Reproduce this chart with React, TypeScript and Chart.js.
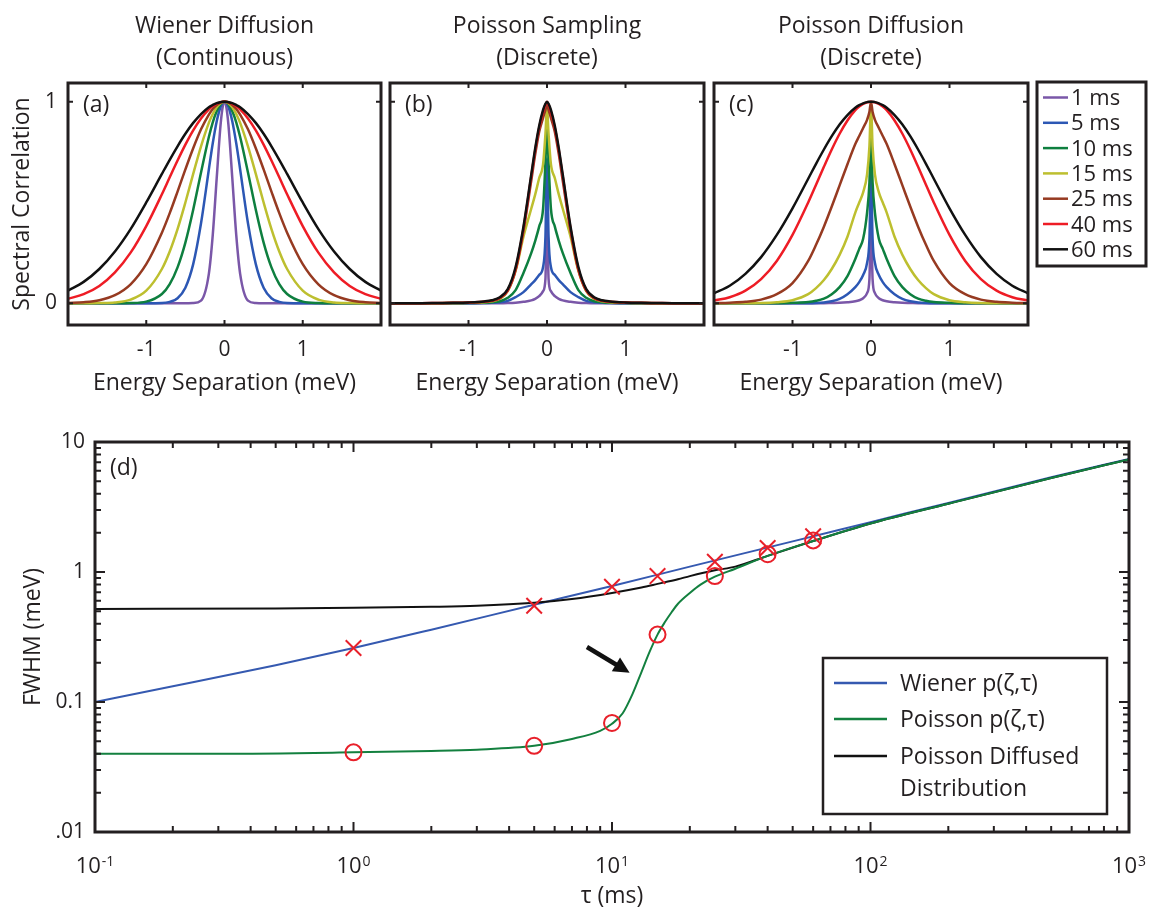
import React, { useEffect, useRef } from 'react';
import { Chart, registerables } from 'chart.js';

Chart.register(...registerables);

const FONT = '"Open Sans", "Noto Sans", "DejaVu Sans", sans-serif';
const INK = '#231F20';
const fontStr = (size: number) => `${size}px ${FONT}`;

// ---------------- Panels (a)-(c): spectral correlation vs energy separation ----------------
// one side of each (symmetric) profile, energy separation in meV
const energyHalf = [0, 0.02, 0.05, 0.1, 0.15, 0.2, 0.3, 0.4, 0.5, 0.6, 0.7, 0.8, 1.0, 1.2, 1.4, 1.6, 1.8, 2.0];

const delayLabels = ['1 ms', '5 ms', '10 ms', '15 ms', '25 ms', '40 ms', '60 ms'];
const delayColors = ['#7A57A8', '#2C57B4', '#0E7F3F', '#BDBF2F', '#963A21', '#EE1C25', '#111111'];

const energyTicks = [-1, 0, 1];
const correlationTicks = [0, 1];

// (a) Wiener diffusion (continuous)
const wienerA1 = [1, 0.981, 0.886, 0.618, 0.339, 0.146, 0.013, 0.001, 0, 0, 0, 0, 0, 0, 0, 0, 0, 0];
const wienerA5 = [1, 0.996, 0.975, 0.902, 0.794, 0.664, 0.397, 0.194, 0.077, 0.025, 0.007, 0.001, 0, 0, 0, 0, 0, 0];
const wienerA10 = [1, 0.998, 0.988, 0.953, 0.898, 0.825, 0.649, 0.464, 0.301, 0.178, 0.095, 0.046, 0.008, 0.001, 0, 0, 0, 0];
const wienerA15 = [1, 0.999, 0.993, 0.973, 0.939, 0.895, 0.779, 0.642, 0.5, 0.368, 0.257, 0.17, 0.0625, 0.018, 0.004, 0.001, 0, 0];
const wienerA25 = [1, 0.999, 0.996, 0.984, 0.964, 0.936, 0.863, 0.769, 0.664, 0.554, 0.447, 0.35, 0.194, 0.094, 0.04, 0.015, 0.005, 0.001];
const wienerA40 = [1, 1, 0.998, 0.99, 0.979, 0.962, 0.917, 0.858, 0.787, 0.708, 0.625, 0.541, 0.383, 0.251, 0.153, 0.086, 0.045, 0.022];
const wienerA60 = [1, 1, 0.998, 0.993, 0.984, 0.973, 0.939, 0.895, 0.841, 0.779, 0.712, 0.642, 0.5, 0.368, 0.257, 0.17, 0.106, 0.0625];

// (b) Poisson sampling (discrete)
const samplingB1 = [0.45, 0.12, 0.06, 0.035, 0.022, 0.014, 0.007, 0.003, 0.001, 0, 0, 0, 0, 0, 0, 0, 0, 0];
const samplingB5 = [0.72, 0.33, 0.18, 0.14, 0.115, 0.095, 0.055, 0.03, 0.012, 0.005, 0.002, 0.001, 0, 0, 0, 0, 0, 0];
const samplingB10 = [0.9, 0.7, 0.47, 0.38, 0.31, 0.25, 0.15, 0.065, 0.027, 0.01, 0.005, 0.002, 0.001, 0, 0, 0, 0, 0];
const samplingB15 = [0.97, 0.84, 0.69, 0.62, 0.54, 0.47, 0.33, 0.16, 0.06, 0.022, 0.01, 0.005, 0.002, 0.001, 0, 0, 0, 0];
const samplingB25 = [0.99, 0.96, 0.92, 0.85, 0.74, 0.61, 0.36, 0.165, 0.062, 0.025, 0.012, 0.007, 0.003, 0.001, 0, 0, 0, 0];
const samplingB40 = [1, 0.985, 0.95, 0.87, 0.76, 0.63, 0.37, 0.17, 0.065, 0.027, 0.013, 0.008, 0.004, 0.002, 0.001, 0, 0, 0];
const samplingB60 = [1, 0.99, 0.96, 0.88, 0.77, 0.64, 0.38, 0.18, 0.07, 0.03, 0.015, 0.009, 0.004, 0.002, 0.001, 0, 0, 0];

// (c) Poisson diffusion (discrete)
const diffusionC1 = [0.45, 0.12, 0.05, 0.025, 0.015, 0.01, 0.005, 0.002, 0.001, 0, 0, 0, 0, 0, 0, 0, 0, 0];
const diffusionC5 = [0.65, 0.32, 0.2, 0.14, 0.105, 0.08, 0.045, 0.022, 0.01, 0.004, 0.001, 0, 0, 0, 0, 0, 0, 0];
const diffusionC10 = [0.85, 0.6, 0.45, 0.32, 0.27, 0.22, 0.135, 0.08, 0.045, 0.023, 0.012, 0.006, 0.002, 0, 0, 0, 0, 0];
const diffusionC15 = [0.98, 0.78, 0.64, 0.55, 0.5, 0.45, 0.33, 0.24, 0.17, 0.115, 0.075, 0.045, 0.015, 0.005, 0.001, 0, 0, 0];
const diffusionC25 = [1, 0.95, 0.91, 0.87, 0.83, 0.79, 0.69, 0.585, 0.48, 0.38, 0.29, 0.21, 0.1, 0.045, 0.018, 0.007, 0.003, 0.001];
const diffusionC40 = [1, 0.999, 0.997, 0.989, 0.976, 0.958, 0.907, 0.841, 0.763, 0.677, 0.588, 0.5, 0.339, 0.21, 0.12, 0.0625, 0.03, 0.013];
const diffusionC60 = [1, 1, 0.998, 0.992, 0.983, 0.97, 0.934, 0.887, 0.829, 0.763, 0.692, 0.618, 0.471, 0.339, 0.229, 0.146, 0.087, 0.049];

// ---------------- Panel (d): FWHM vs tau ----------------
const tauWiener = [0.1, 0.2, 0.5, 1, 2, 5, 10, 20, 50, 100, 200, 500, 1000];
const fwhmWiener = [0.1, 0.132, 0.192, 0.26, 0.36, 0.56, 0.78, 1.1, 1.72, 2.42, 3.4, 5.35, 7.4];

const tauPoisson = [0.1, 0.3, 1, 2, 3, 5, 7, 9, 10, 11, 12, 13, 14, 15, 16, 17, 18, 20, 22, 25, 30, 40, 60, 100, 200, 500, 1000];
const fwhmPoisson = [0.04, 0.04, 0.041, 0.042, 0.043, 0.046, 0.052, 0.06, 0.068, 0.082, 0.115, 0.17, 0.245, 0.33, 0.41, 0.49, 0.57, 0.69, 0.8, 0.92, 1.06, 1.33, 1.73, 2.36, 3.35, 5.28, 7.35];

const tauDiffused = [0.1, 0.5, 1, 2, 3, 5, 7, 10, 13, 15, 18, 20, 25, 30, 40, 60, 100, 200, 500, 1000];
const fwhmDiffused = [0.52, 0.525, 0.53, 0.54, 0.55, 0.58, 0.62, 0.69, 0.76, 0.81, 0.88, 0.93, 1.03, 1.1, 1.33, 1.73, 2.36, 3.35, 5.28, 7.35];

const tauMarks = [1, 5, 10, 15, 25, 40, 60];
const wienerMarks = [0.26, 0.55, 0.77, 0.93, 1.2, 1.53, 1.88];
const poissonMarks = [0.041, 0.046, 0.069, 0.33, 0.93, 1.37, 1.75];

const xTickValuesD = [0.1, 1, 10, 100, 1000];
const xTickExpD = ['-1', '0', '1', '2', '3'];
const yTickValuesD = [0.01, 0.1, 1, 10];
const yTickLabelsD = ['.01', '0.1', '1', '10'];
const legendLabelsD = ['Wiener p(ζ,τ)', 'Poisson p(ζ,τ)', 'Poisson Diffused', 'Distribution'];

const arrowFrom = [8.0, 0.265];
const arrowTo = [11.7, 0.168];

const colorWiener = '#3559B0';
const colorPoisson = '#13803F';
const colorDiffused = '#111111';
const colorMarks = '#E8202A';

// ---------------- helpers ----------------
function mirror(half: number[]) {
  const pts: { x: number; y: number }[] = [];
  for (let i = energyHalf.length - 1; i > 0; i--) pts.push({ x: -energyHalf[i], y: half[i] });
  for (let i = 0; i < energyHalf.length; i++) pts.push({ x: energyHalf[i], y: half[i] });
  return pts;
}
function zip(xs: number[], ys: number[]) {
  return xs.map((x, i) => ({ x, y: ys[i] }));
}
function decadeMinors(decades: number[]) {
  const out: number[] = [];
  decades.forEach((d) => {
    for (let k = 2; k <= 9; k++) out.push(d * k);
  });
  return out;
}

function spectralDecor(titles: string[], panel: string, legend: boolean) {
  return {
    id: 'decor',
    afterDatasetsDraw(chart: any) {
      const { ctx, chartArea: a, scales } = chart;
      ctx.save();
      ctx.strokeStyle = INK;
      ctx.lineWidth = 2;
      ctx.beginPath();
      energyTicks.forEach((v) => {
        const p = scales.x.getPixelForValue(v);
        ctx.moveTo(p, a.bottom);
        ctx.lineTo(p, a.bottom - 5);
        ctx.moveTo(p, a.top);
        ctx.lineTo(p, a.top + 5);
      });
      correlationTicks.forEach((v) => {
        const p = scales.y.getPixelForValue(v);
        ctx.moveTo(a.left, p);
        ctx.lineTo(a.left + 5, p);
        ctx.moveTo(a.right, p);
        ctx.lineTo(a.right - 5, p);
      });
      ctx.stroke();
      ctx.lineWidth = 3;
      ctx.strokeRect(a.left, a.top, a.right - a.left, a.bottom - a.top);

      ctx.fillStyle = INK;
      ctx.textBaseline = 'alphabetic';
      ctx.textAlign = 'center';
      ctx.font = fontStr(23);
      const cx = (a.left + a.right) / 2;
      ctx.fillText(titles[0], cx, 33);
      ctx.fillText(titles[1], cx, 65);

      ctx.textAlign = 'left';
      ctx.font = fontStr(23);
      ctx.fillText(panel, a.left + 15, a.top + 29);

      if (legend) {
        const L = a.right + 9;
        ctx.fillStyle = '#fff';
        ctx.fillRect(L, 82, 109, 184);
        ctx.lineWidth = 3;
        ctx.strokeStyle = INK;
        ctx.strokeRect(L, 82, 109, 184);
        ctx.font = fontStr(22);
        ctx.lineWidth = 2.5;
        delayLabels.forEach((lab, i) => {
          const base = 105 + 25.3 * i;
          ctx.strokeStyle = delayColors[i];
          ctx.beginPath();
          ctx.moveTo(L + 6, base - 7.5);
          ctx.lineTo(L + 31, base - 7.5);
          ctx.stroke();
          ctx.fillStyle = INK;
          ctx.fillText(lab, L + 34, base);
        });
      }
      ctx.restore();
    },
  };
}

function spectralConfig(curves: number[][], titles: string[], panel: string, showY: boolean, padLeft: number, padRight: number, legend: boolean): any {
  return {
    type: 'line',
    data: {
      datasets: curves.map((half, i) => ({
        label: delayLabels[i],
        data: mirror(half),
        borderColor: delayColors[i],
        backgroundColor: delayColors[i],
        borderWidth: 2.5,
        pointRadius: 0,
        pointHoverRadius: 0,
        fill: false,
        cubicInterpolationMode: 'monotone',
        order: curves.length - i,
      })),
    },
    options: {
      responsive: false,
      animation: false,
      events: [],
      layout: { padding: { left: padLeft, right: padRight, top: 83, bottom: 0 } },
      plugins: { legend: { display: false }, tooltip: { enabled: false }, title: { display: false } },
      scales: {
        x: {
          type: 'linear',
          min: -2,
          max: 2,
          grid: { display: false, drawTicks: false },
          border: { display: false },
          ticks: { font: { family: FONT, size: 21 }, color: INK, padding: 12, maxRotation: 0, callback: (v: number) => String(v) },
          title: { display: true, text: 'Energy Separation (meV)', color: INK, font: { family: FONT, size: 23 }, padding: { top: 0, bottom: 3 } },
          afterBuildTicks: (s: any) => {
            s.ticks = energyTicks.map((value) => ({ value }));
          },
          afterFit: (s: any) => {
            s.height = 75;
          },
        },
        y: {
          type: 'linear',
          min: -0.108,
          max: 1.093,
          display: showY,
          grid: { display: false, drawTicks: false },
          border: { display: false },
          ticks: { font: { family: FONT, size: 21 }, color: INK, padding: 11, callback: (v: number) => String(v) },
          title: { display: true, text: 'Spectral Correlation', color: INK, font: { family: FONT, size: 23 }, padding: { top: 9, bottom: 0 } },
          afterBuildTicks: (s: any) => {
            s.ticks = correlationTicks.map((value) => ({ value }));
          },
          afterFit: (s: any) => {
            s.width = showY ? 68 : 0;
          },
        },
      },
    },
    plugins: [spectralDecor(titles, panel, legend)],
  };
}

const buildA = () =>
  spectralConfig([wienerA1, wienerA5, wienerA10, wienerA15, wienerA25, wienerA40, wienerA60], ['Wiener Diffusion', '(Continuous)'], '(a)', true, 0, 9, false);
const buildB = () =>
  spectralConfig([samplingB1, samplingB5, samplingB10, samplingB15, samplingB25, samplingB40, samplingB60], ['Poisson Sampling', '(Discrete)'], '(b)', false, 8, 8, false);
const buildC = () =>
  spectralConfig([diffusionC1, diffusionC5, diffusionC10, diffusionC15, diffusionC25, diffusionC40, diffusionC60], ['Poisson Diffusion', '(Discrete)'], '(c)', false, 8, 121, true);

const xMinorD = decadeMinors([0.1, 1, 10, 100]);
const yMinorD = decadeMinors([0.01, 0.1, 1]);

const decorD = {
  id: 'decorD',
  afterDatasetsDraw(chart: any) {
    const { ctx, chartArea: a, scales } = chart;
    const xs = scales.x;
    const ys = scales.y;
    ctx.save();
    ctx.strokeStyle = INK;
    ctx.lineWidth = 2;
    ctx.beginPath();
    const vx = (v: number, len: number) => {
      const p = xs.getPixelForValue(v);
      ctx.moveTo(p, a.bottom);
      ctx.lineTo(p, a.bottom - len);
      ctx.moveTo(p, a.top);
      ctx.lineTo(p, a.top + len);
    };
    const vy = (v: number, len: number) => {
      const p = ys.getPixelForValue(v);
      ctx.moveTo(a.left, p);
      ctx.lineTo(a.left + len, p);
      ctx.moveTo(a.right, p);
      ctx.lineTo(a.right - len, p);
    };
    xTickValuesD.forEach((v) => vx(v, 10));
    xMinorD.forEach((v) => vx(v, 6));
    yTickValuesD.forEach((v) => vy(v, 10));
    yMinorD.forEach((v) => vy(v, 6));
    ctx.stroke();
    ctx.lineWidth = 3;
    ctx.strokeRect(a.left, a.top, a.right - a.left, a.bottom - a.top);

    // x tick labels with superscript exponents
    ctx.fillStyle = INK;
    ctx.textBaseline = 'alphabetic';
    ctx.textAlign = 'left';
    xTickValuesD.forEach((v, i) => {
      const px = xs.getPixelForValue(v);
      ctx.font = fontStr(22);
      const wb = ctx.measureText('10').width;
      ctx.font = fontStr(14);
      const we = ctx.measureText(xTickExpD[i]).width;
      const start = px - (wb + we + 1) / 2;
      ctx.font = fontStr(22);
      ctx.fillText('10', start, a.bottom + 41);
      ctx.font = fontStr(14);
      ctx.fillText(xTickExpD[i], start + wb + 1, a.bottom + 34);
    });

    // panel label
    ctx.font = fontStr(23);
    ctx.fillText('(d)', a.left + 15, a.top + 33);

    // arrow
    const x0 = xs.getPixelForValue(arrowFrom[0]);
    const y0 = ys.getPixelForValue(arrowFrom[1]);
    const x1 = xs.getPixelForValue(arrowTo[0]);
    const y1 = ys.getPixelForValue(arrowTo[1]);
    const ang = Math.atan2(y1 - y0, x1 - x0);
    const head = 16;
    const bx = x1 - head * Math.cos(ang);
    const by = y1 - head * Math.sin(ang);
    ctx.strokeStyle = '#111';
    ctx.fillStyle = '#111';
    ctx.lineWidth = 4.5;
    ctx.beginPath();
    ctx.moveTo(x0, y0);
    ctx.lineTo(bx + 2 * Math.cos(ang), by + 2 * Math.sin(ang));
    ctx.stroke();
    ctx.beginPath();
    ctx.moveTo(x1, y1);
    ctx.lineTo(bx + 8 * Math.sin(ang), by - 8 * Math.cos(ang));
    ctx.lineTo(bx - 8 * Math.sin(ang), by + 8 * Math.cos(ang));
    ctx.closePath();
    ctx.fill();

    // legend
    const LX = 823;
    const LY = 258;
    ctx.fillStyle = '#fff';
    ctx.fillRect(LX, LY, 284, 156);
    ctx.strokeStyle = INK;
    ctx.lineWidth = 2.5;
    ctx.strokeRect(LX, LY, 284, 156);
    const rows = [
      { color: colorWiener, y: 283, text: [legendLabelsD[0]] },
      { color: colorPoisson, y: 319, text: [legendLabelsD[1]] },
      { color: colorDiffused, y: 356, text: [legendLabelsD[2], legendLabelsD[3]] },
    ];
    ctx.font = fontStr(23);
    rows.forEach((r) => {
      ctx.strokeStyle = r.color;
      ctx.lineWidth = 2.5;
      ctx.beginPath();
      ctx.moveTo(LX + 11, r.y);
      ctx.lineTo(LX + 64, r.y);
      ctx.stroke();
      ctx.fillStyle = INK;
      r.text.forEach((t, k) => ctx.fillText(t, LX + 77, r.y + 8 + k * 32));
    });
    ctx.restore();
  },
};

const buildD = (): any => ({
  type: 'line',
  data: {
    datasets: [
      { label: 'Wiener p(ζ,τ)', data: zip(tauWiener, fwhmWiener), borderColor: colorWiener, backgroundColor: colorWiener, borderWidth: 2, pointRadius: 0, cubicInterpolationMode: 'monotone', order: 5 },
      { label: 'Poisson Diffused Distribution', data: zip(tauDiffused, fwhmDiffused), borderColor: colorDiffused, backgroundColor: colorDiffused, borderWidth: 2, pointRadius: 0, cubicInterpolationMode: 'monotone', order: 4 },
      { label: 'Poisson p(ζ,τ)', data: zip(tauPoisson, fwhmPoisson), borderColor: colorPoisson, backgroundColor: colorPoisson, borderWidth: 2, pointRadius: 0, cubicInterpolationMode: 'monotone', order: 3 },
      { label: 'Wiener samples', data: zip(tauMarks, wienerMarks), showLine: false, pointStyle: 'crossRot', pointRadius: 11, borderColor: colorMarks, backgroundColor: 'rgba(0,0,0,0)', pointBorderWidth: 2, order: 2 },
      { label: 'Poisson samples', data: zip(tauMarks, poissonMarks), showLine: false, pointStyle: 'circle', pointRadius: 8, borderColor: colorMarks, backgroundColor: 'rgba(0,0,0,0)', pointBorderWidth: 2, order: 1 },
    ],
  },
  options: {
    responsive: false,
    animation: false,
    events: [],
    layout: { padding: { left: 0, right: 20, top: 42, bottom: 0 } },
    plugins: { legend: { display: false }, tooltip: { enabled: false }, title: { display: false } },
    scales: {
      x: {
        type: 'logarithmic',
        min: 0.1,
        max: 1000,
        grid: { display: false, drawTicks: false },
        border: { display: false },
        ticks: { display: false },
        title: { display: true, text: 'τ (ms)', color: INK, font: { family: FONT, size: 23 }, padding: { top: 0, bottom: 3 } },
        afterFit: (s: any) => {
          s.height = 81;
        },
      },
      y: {
        type: 'logarithmic',
        min: 0.01,
        max: 10,
        grid: { display: false, drawTicks: false },
        border: { display: false },
        ticks: {
          font: { family: FONT, size: 21 },
          color: INK,
          padding: 10,
          callback: (v: number) => {
            const idx = yTickValuesD.findIndex((t) => Math.abs(t - v) / t < 1e-6);
            return idx >= 0 ? yTickLabelsD[idx] : '';
          },
        },
        title: { display: true, text: 'FWHM (meV)', color: INK, font: { family: FONT, size: 23 }, padding: { top: 20, bottom: 0 } },
        afterBuildTicks: (s: any) => {
          s.ticks = yTickValuesD.map((value) => ({ value }));
        },
        afterFit: (s: any) => {
          s.width = 95;
        },
      },
    },
  },
  plugins: [decorD],
});

function ChartCanvas({ left, top, width, height, build }: { left: number; top: number; width: number; height: number; build: () => any }) {
  const ref = useRef<HTMLCanvasElement>(null);
  useEffect(() => {
    const chart = new Chart(ref.current as HTMLCanvasElement, build());
    return () => chart.destroy();
  }, []);
  return <canvas ref={ref} width={width} height={height} style={{ position: 'absolute', left, top, width, height }} />;
}

export default function App() {
  return (
    <div style={{ position: 'absolute', left: 0, top: 0, width: 1149, height: 913, background: '#fff', overflow: 'hidden' }}>
      <ChartCanvas left={0} top={0} width={390} height={400} build={buildA} />
      <ChartCanvas left={382} top={0} width={330} height={400} build={buildB} />
      <ChartCanvas left={706} top={0} width={443} height={400} build={buildC} />
      <ChartCanvas left={0} top={400} width={1149} height={513} build={buildD} />
    </div>
  );
}
